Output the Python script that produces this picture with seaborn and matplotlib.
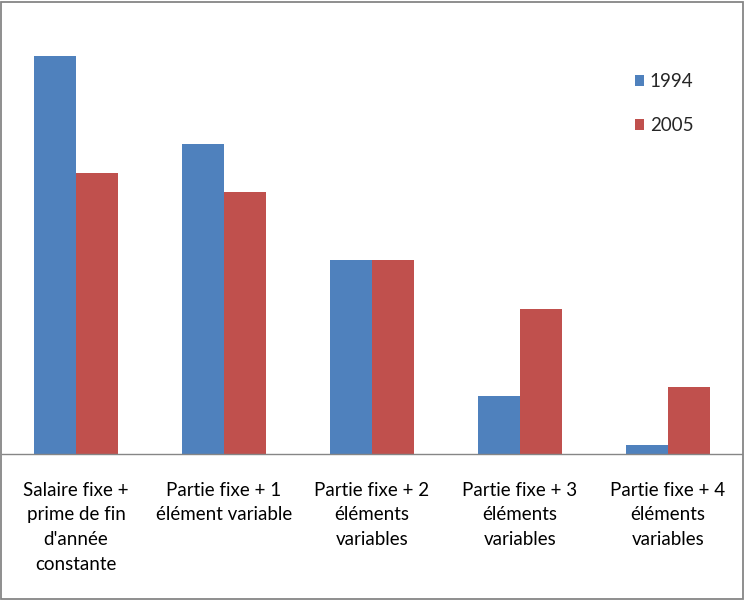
import seaborn as sns
import matplotlib.pyplot as plt
import pandas as pd
from matplotlib.patches import Rectangle

categories = ["Salaire fixe +\nprime de fin\nd'année\nconstante",
              "Partie fixe + 1\nélément variable",
              "Partie fixe + 2\néléments\nvariables",
              "Partie fixe + 3\néléments\nvariables",
              "Partie fixe + 4\néléments\nvariables"]
years = ["1994", "2005"]
values_1994 = [45.0, 35.1, 21.9, 6.6, 1.0]
values_2005 = [31.8, 29.6, 21.9, 16.4, 7.6]

df = pd.DataFrame({
    "categorie": categories * 2,
    "annee": [years[0]] * 5 + [years[1]] * 5,
    "valeur": values_1994 + values_2005,
})

sns.set_style("white")
plt.rcParams['font.family'] = ['Lato', 'DejaVu Sans']

fig = plt.figure(figsize=(7.45, 6.01), dpi=100)
ax = fig.add_axes([2 / 745, 1 - 454 / 601, 740 / 745, 452 / 601])

sns.barplot(data=df, x="categorie", y="valeur", hue="annee",
            palette=["#4F81BD", "#C0504D"], width=0.57, gap=0,
            saturation=1, linewidth=0, ax=ax, legend=True)

ax.set_xlim(-0.5, 4.5)
ax.set_ylim(0, 51.1)
ax.set_xlabel("")
ax.set_ylabel("")
ax.set_yticks([])
for s in ["left", "top", "right"]:
    ax.spines[s].set_visible(False)
ax.spines["bottom"].set_color("#868686")
ax.spines["bottom"].set_linewidth(1)

ax.set_xticks(range(5))
ax.set_xticklabels(categories, fontsize=13.5, linespacing=1.55, color="#000000")
ax.tick_params(axis="x", which="major", length=0, pad=20)
ax.set_xticks([-0.5, 0.5, 1.5, 2.5, 3.5], minor=True)
ax.tick_params(axis="x", which="minor", length=8, color="#868686", width=1)

ax.legend(frameon=False, fontsize=13.5, handlelength=0.5, handleheight=0.5,
          handletextpad=0.3, labelspacing=1.45,
          loc="upper left", bbox_to_anchor=(618 / 745, 1 - 56 / 601),
          bbox_transform=fig.transFigure)

fig.patches.append(Rectangle((1 / 745, 2 / 601), 742 / 745, 597 / 601,
                             transform=fig.transFigure, fill=False,
                             edgecolor="#868686", linewidth=1.3))

fig.savefig("out.png", dpi=100)
